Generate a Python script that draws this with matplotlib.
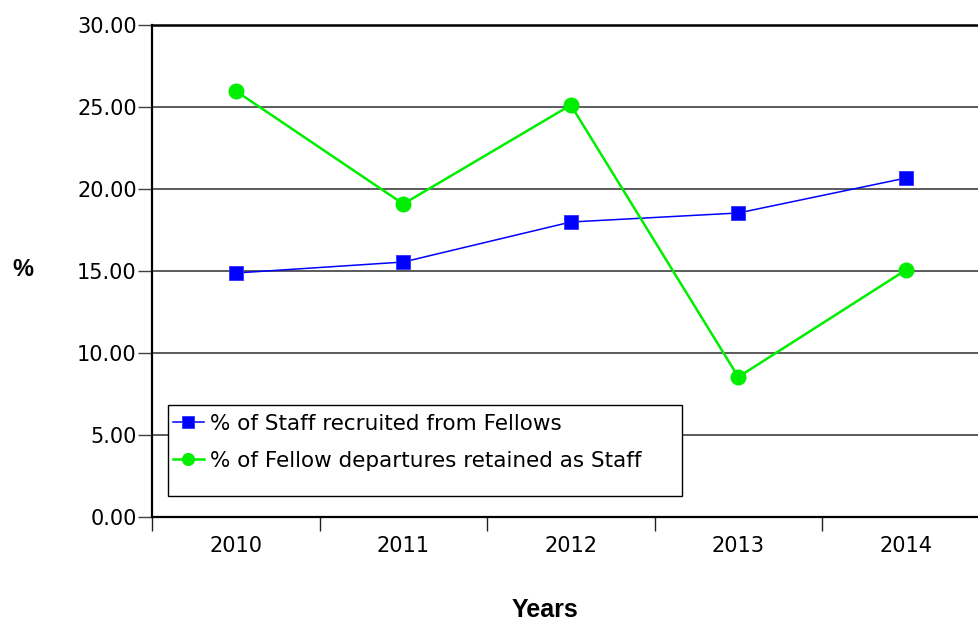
import matplotlib.pyplot as plt
from matplotlib.patches import Rectangle

# values
years = ['2010', '2011', '2012', '2013', '2014']
staff_from_fellows = [14.88, 15.55, 17.99, 18.54, 20.67]
fellows_retained = [25.98, 19.09, 25.12, 8.54, 15.06]
y_ticks = [0, 5, 10, 15, 20, 25, 30]

fig = plt.figure(figsize=(9.79, 6.23), dpi=100)
ax = fig.add_axes([0.1553, 0.1701, 0.8555, 0.7897])

x = list(range(len(years)))

ax.plot(x, staff_from_fellows, color='#0000ff', lw=1.1, marker='s', markersize=10,
        markeredgecolor='#3030ff', markeredgewidth=0.6, label='% of Staff recruited from Fellows', zorder=3)
ax.plot(x, fellows_retained, color='#00ee00', lw=1.8, marker='o', markersize=10.5,
        markeredgecolor='#00ee00', label='% of Fellow departures retained as Staff', zorder=3)

ax.set_xlim(-0.5, len(years) - 0.5)
ax.set_ylim(0, 30)

# y axis
ax.set_yticks(y_ticks)
ax.set_yticklabels(['%.2f' % v for v in y_ticks], fontsize=15, family='DejaVu Sans')
ax.tick_params(axis='y', direction='out', length=10, width=1, color='#404040', pad=1)
ax.yaxis.grid(True, color='#404040', lw=1.2)
ax.set_axisbelow(True)

# x axis: labels centered, ticks on category boundaries
ax.set_xticks(x)
ax.set_xticklabels(years, fontsize=15, family='DejaVu Sans')
ax.tick_params(axis='x', which='major', length=0, pad=14)
ax.set_xticks([i - 0.5 for i in range(len(years) + 1)], minor=True)
ax.tick_params(axis='x', which='minor', direction='out', length=10, width=1, color='#202020')

ax.spines['right'].set_visible(False)
ax.spines['top'].set_color('black')
ax.spines['top'].set_linewidth(1.8)
ax.spines['left'].set_linewidth(1.6)
ax.spines['bottom'].set_linewidth(1.6)

fig.text(0.0235, 0.568, '%', fontsize=17, fontweight='bold', family='Liberation Sans',
         ha='center', va='center')
fig.text(0.557, 0.021, 'Years', fontsize=18, fontweight='bold', family='Liberation Sans',
         ha='center', va='center')

# legend with a taller box than its content
box = Rectangle((0.019, 0.043), 0.614, 0.185, transform=ax.transAxes, facecolor='white',
                edgecolor='black', lw=1, zorder=4)
ax.add_patch(box)
leg = ax.legend(loc='upper left', bbox_to_anchor=(0.0145, 0.227), frameon=False,
                fontsize=15.5, handlelength=1.45, handletextpad=0.3, labelspacing=0.78,
                borderaxespad=0, markerscale=0.8)
leg.set_zorder(5)

fig.savefig('out.png', dpi=100)
